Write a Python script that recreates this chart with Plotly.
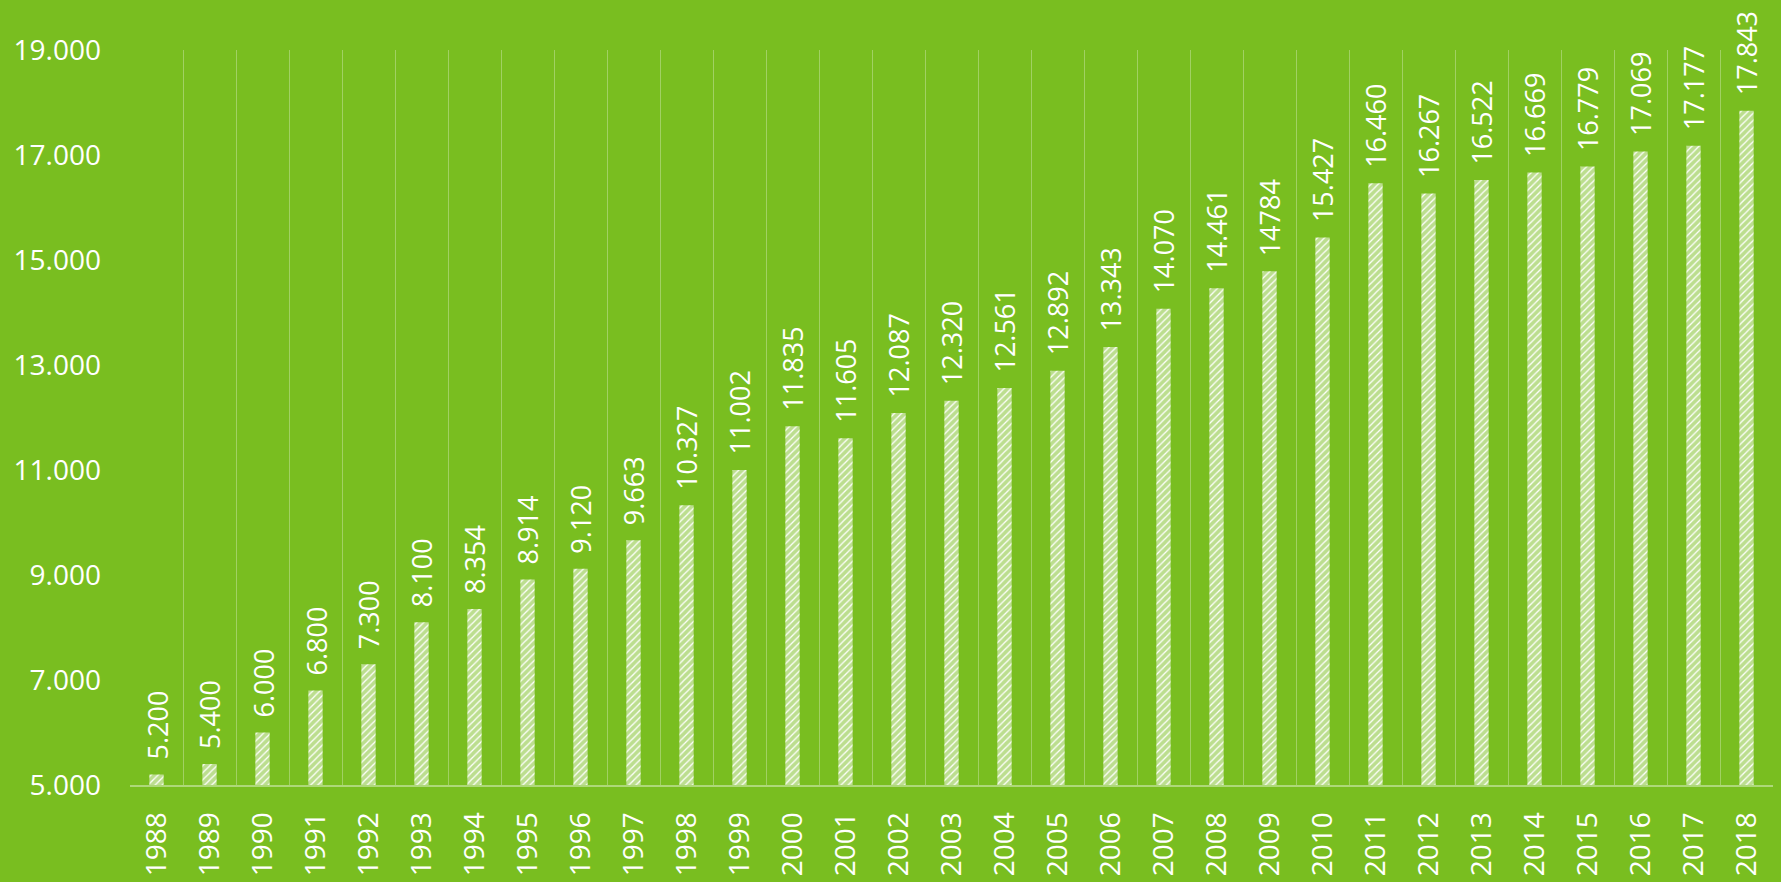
import plotly.graph_objects as go

years = [str(y) for y in range(1988, 2019)]
values = [5200, 5400, 6000, 6800, 7300, 8100, 8354, 8914, 9120, 9663, 10327,
          11002, 11835, 11605, 12087, 12320, 12561, 12892, 13343, 14070, 14461,
          14784, 15427, 16460, 16267, 16522, 16669, 16779, 17069, 17177, 17843]
labels = ["5.200", "5.400", "6.000", "6.800", "7.300", "8.100", "8.354", "8.914",
          "9.120", "9.663", "10.327", "11.002", "11.835", "11.605", "12.087",
          "12.320", "12.561", "12.892", "13.343", "14.070", "14.461", "14784",
          "15.427", "16.460", "16.267", "16.522", "16.669", "16.779", "17.069",
          "17.177", "17.843"]
y_ticks = [5000, 7000, 9000, 11000, 13000, 15000, 17000, 19000]
y_tick_text = ["5.000", "7.000", "9.000", "11.000", "13.000", "15.000", "17.000", "19.000"]

BG = "#79BE20"
FONT = "Open Sans"

fig = go.Figure()
fig.add_trace(go.Bar(
    x=years, y=values, width=0.27,
    marker=dict(color="white", line=dict(width=0),
                pattern=dict(shape="/", fgcolor=BG, bgcolor="white", size=5, solidity=0.75)),
    hoverinfo="x+y",
))

for i, (v, t) in enumerate(zip(values, labels)):
    fig.add_annotation(x=i, y=v, xref="x", yref="y", text=t, showarrow=False,
                       textangle=-90, xanchor="center", yanchor="bottom", yshift=13,
                       font=dict(family=FONT, size=27, color="white"))

fig.update_layout(
    width=1781, height=882,
    paper_bgcolor=BG, plot_bgcolor=BG,
    margin=dict(l=130, r=8, t=50, b=97, autoexpand=False),
    showlegend=False,
    font=dict(family=FONT, color="white"),
)
fig.update_xaxes(
    type="category", tickson="boundaries", showgrid=True, automargin=False,
    gridcolor="rgba(255,255,255,0.3)", gridwidth=1,
    showline=True, linecolor="rgba(255,255,255,0.4)", linewidth=2,
    ticks="", tickangle=-90, ticklabelstandoff=14,
    tickfont=dict(family=FONT, size=28, color="white"),
    range=[-0.5, 30.5],
)
fig.update_yaxes(
    range=[5000, 19000], tickvals=y_ticks, ticktext=y_tick_text, automargin=False,
    showgrid=False, zeroline=False, showline=False, ticks="",
    ticklabelstandoff=28,
    tickfont=dict(family=FONT, size=28, color="white"),
)

fig.write_html("out.html", config={"displayModeBar": False},
               post_script="document.body.style.margin='0';document.body.style.background='" + BG + "';")
